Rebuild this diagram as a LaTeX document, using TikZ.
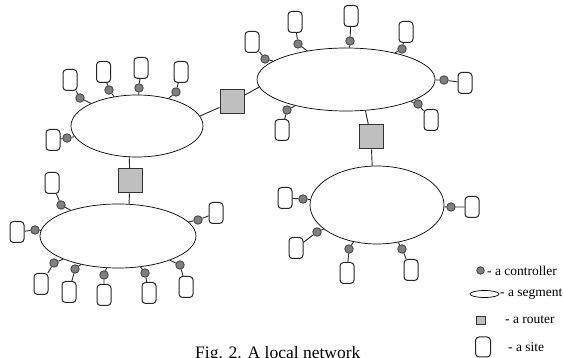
\documentclass[tikz,border=0pt]{standalone}
\usepackage{fontspec}
\setmainfont{Liberation Serif}
\usetikzlibrary{shapes.geometric}

\tikzset{
  segment/.style={draw, ellipse, line width=0.7pt, inner sep=0pt},
  router/.style={draw=black!80, fill=black!25, line width=1pt, minimum size=24pt, inner sep=0pt},
  site/.style={draw=black!85, fill=white, rounded corners=3.5pt, line width=1pt,
    minimum width=14pt, minimum height=21pt, inner sep=0pt},
  ctrl/.style={draw=black!75, fill=black!50, circle, line width=0.8pt, minimum size=8.5pt, inner sep=0pt},
  wire/.style={line width=0.9pt, black!85},
  legendtext/.style={anchor=west, inner sep=0pt, font=\fontsize{13.5}{15}\selectfont},
}

\begin{document}
\begin{tikzpicture}[x=1pt, y=-1pt]
        \useasboundingbox (0,0) rectangle (563,358);

        % segments
        \node[segment, minimum width=132pt, minimum height=62pt] (segA) at (137,126) {};
        \node[segment, minimum width=178pt, minimum height=63pt] (segB) at (346,79.5) {};
        \node[segment, minimum width=156pt, minimum height=64pt] (segC) at (118,236) {};
        \node[segment, minimum width=134pt, minimum height=78pt] (segD) at (377,205) {};

        % routers between segments
        \node[router] (r1) at (232,102) {};
        \node[router] (r2) at (371,137) {};
        \node[router] (r3) at (130,181) {};
        \draw[wire] (segA.9) -- (r1) -- (segB.185);
        \draw[wire] (segB.-58) -- (r2) -- (segD.97);
        \draw[wire] (segA.256) -- (r3) -- (segC.71);

        % sites with their controllers: site x/y, controller x/y
        \foreach \sx/\sy/\cx/\cy [count=\i] in {70/80/80/98, 103.5/72/109/90, 141/68/139/88,
            181/72/176/92, 53/140/67/138} {
          \node[site] (sa\i) at (\sx,\sy) {};
          \node[ctrl] (ca\i) at (\cx,\cy) {};
          \draw[wire] (sa\i) -- (ca\i) -- (segA);
        }
        \foreach \sx/\sy/\cx/\cy [count=\i] in {252/42/265/59, 295/22/298/44, 351/16/350/41,
            406/32/402/49, 465/83/444/80, 431/120/418/104, 282/130/287/110} {
          \node[site] (sb\i) at (\sx,\sy) {};
          \node[ctrl] (cb\i) at (\cx,\cy) {};
          \draw[wire] (sb\i) -- (cb\i) -- (segB);
        }
        \foreach \sx/\sy/\cx/\cy [count=\i] in {52/183/61/205, 17/232/35/230, 216/213/198/220,
            41/284/54/263, 69/292/75/269, 104/295/104/275, 149/293/145/273, 186/287/180/265} {
          \node[site] (sc\i) at (\sx,\sy) {};
          \node[ctrl] (cc\i) at (\cx,\cy) {};
          \draw[wire] (sc\i) -- (cc\i) -- (segC);
        }
        \foreach \sx/\sy/\cx/\cy [count=\i] in {285/198/303/199, 472/207/451/207, 296/248/317/232,
            347/273/349/249, 411/270/402/249} {
          \node[site] (sd\i) at (\sx,\sy) {};
          \node[ctrl] (cd\i) at (\cx,\cy) {};
          \draw[wire] (sd\i) -- (cd\i) -- (segD);
        }

        % legend
        \node[ctrl, minimum size=7.5pt] (keyctrl) at (480.5,270.5) {};
        \node[legendtext] (keyctrltxt) at (487,270.5) {- a controller};
        \node[segment, minimum width=29pt, minimum height=7pt] (keyseg) at (484.5,294) {};
        \node[legendtext] (keysegtxt) at (500,294) {- a segment};
        \node[router, minimum size=8.5pt] (keyrouter) at (481,320.5) {};
        \node[legendtext] (keyroutertxt) at (505,320) {- a router};
        \node[site, minimum width=15pt, minimum height=20pt] (keysite) at (483,347) {};
        \node[legendtext] (keysitetxt) at (508,347) {- a site};

        % caption
        \node[anchor=base west, inner sep=0pt, font=\fontsize{17.5}{20}\selectfont] (caption)
          at (195,358.5) {Fig. 2. A local network};
    \end{tikzpicture}
\end{document}
